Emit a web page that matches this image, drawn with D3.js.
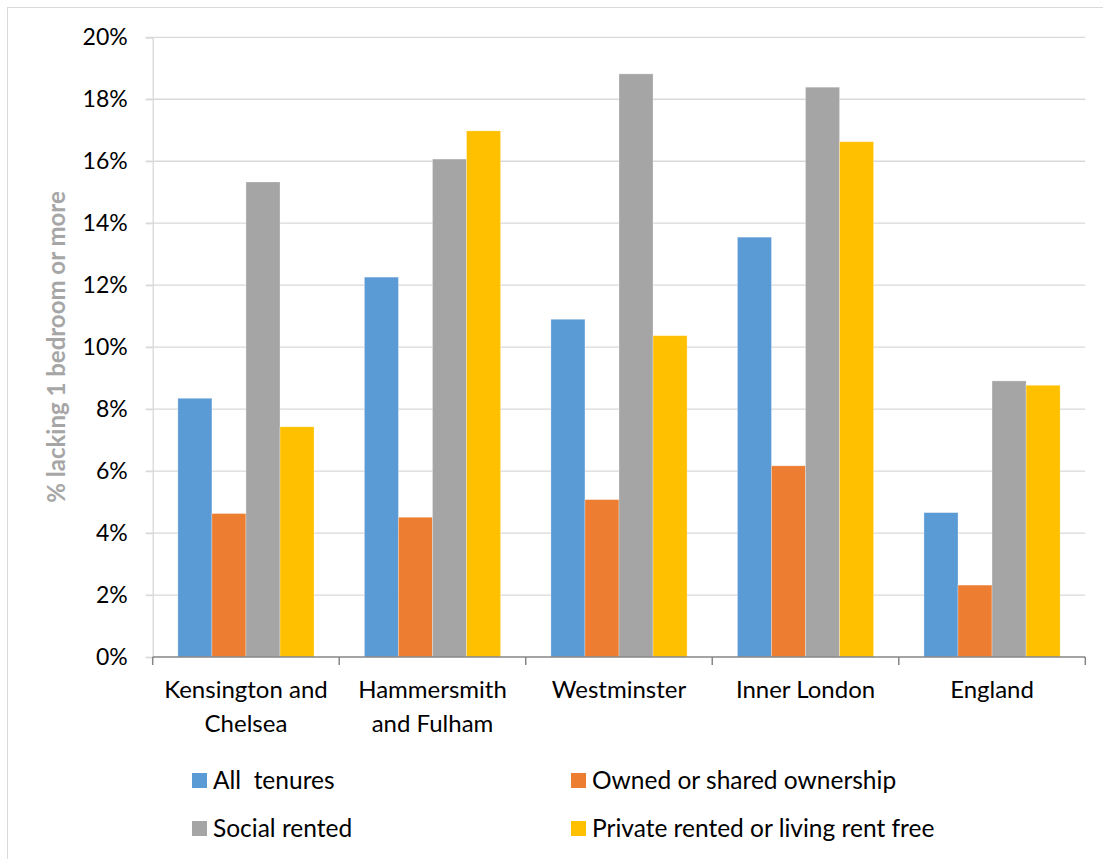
<!DOCTYPE html>
<html>
<head>
<meta charset="utf-8">
<script src="https://cdn.jsdelivr.net/npm/d3@7"></script>
<style>
  html, body { margin: 0; padding: 0; background: #ffffff; }
  svg { display: block; }
  text { font-family: Lato, "Open Sans", sans-serif; }
</style>
</head>
<body>
<svg id="chart" width="1103" height="859"></svg>
<script>
// Share of households lacking one bedroom or more, by tenure
const areas = ["Kensington and Chelsea", "Hammersmith and Fulham", "Westminster", "Inner London", "England"];
const areaLines = [["Kensington and", "Chelsea"], ["Hammersmith", "and Fulham"], ["Westminster"], ["Inner London"], ["England"]];
const tenures = ["All  tenures", "Owned or shared ownership", "Social rented", "Private rented or living rent free"];
const allTenures    = [8.35, 12.26, 10.9, 13.55, 4.66];
const ownedShared   = [4.63, 4.51, 5.08, 6.17, 2.32];
const socialRented  = [15.33, 16.07, 18.82, 18.39, 8.91];
const privateRented = [7.43, 16.98, 10.37, 16.63, 8.77];
const yTicks = [0, 2, 4, 6, 8, 10, 12, 14, 16, 18, 20];
const colors = ["#5b9bd5", "#ed7d31", "#a5a5a5", "#ffc000"];

const seriesValues = [allTenures, ownedShared, socialRented, privateRented];
const rows = areas.map((a, i) => ({ area: a, values: seriesValues.map(s => s[i]) }));

const svg = d3.select("#chart");
const plotLeft = 152.7, plotRight = 1085.3, plotTop = 37.3, plotBottom = 657;

// outer chart frame
svg.append("rect")
  .attr("x", 7.5).attr("y", 7.5).attr("width", 1200).attr("height", 1000)
  .attr("fill", "none").attr("stroke", "#d9d9d9").attr("stroke-width", 1);

const y = d3.scaleLinear().domain([0, 20]).range([plotBottom, plotTop]);
const x0 = d3.scaleBand().domain(areas).range([plotLeft, plotRight]).paddingInner(0.27).paddingOuter(0.135);
const x1 = d3.scaleBand().domain(d3.range(tenures.length)).range([0, x0.bandwidth()]);

// gridlines
svg.append("g")
  .selectAll("line").data(yTicks.filter(t => t > 0)).join("line")
  .attr("x1", plotLeft - 7).attr("x2", plotRight)
  .attr("y1", d => y(d)).attr("y2", d => y(d))
  .attr("stroke", "#d9d9d9").attr("stroke-width", 1.3);

// y axis
const yAxis = svg.append("g").attr("transform", `translate(${plotLeft},0)`)
  .call(d3.axisLeft(y).tickValues(yTicks).tickFormat(d => d + "%").tickSize(7).tickPadding(18));
yAxis.select(".domain").attr("stroke", "#d9d9d9").attr("stroke-width", 1.3);
yAxis.selectAll(".tick line").attr("stroke", "#d9d9d9").attr("stroke-width", 1.3);
yAxis.selectAll(".tick text").attr("fill", "#000").style("font-size", "23px").style("font-family", "Lato, sans-serif");

// bars
svg.append("g").selectAll("g").data(rows).join("g")
  .attr("transform", d => `translate(${x0(d.area)},0)`)
  .selectAll("rect").data(d => d.values.map((v, k) => ({ v, k }))).join("rect")
  .attr("x", d => x1(d.k)).attr("width", x1.bandwidth())
  .attr("y", d => y(d.v)).attr("height", d => plotBottom - y(d.v))
  .attr("fill", d => colors[d.k])
  .attr("stroke", "#ffffff").attr("stroke-opacity", 0.35).attr("stroke-width", 0.8);

// x axis line and category boundary ticks
const step = x0.step();
const boundaries = d3.range(areas.length + 1).map(i => plotLeft + i * step);
svg.append("line").attr("x1", plotLeft).attr("x2", plotRight).attr("y1", plotBottom).attr("y2", plotBottom)
  .attr("stroke", "#868686").attr("stroke-width", 1.5);
svg.append("g").selectAll("line").data(boundaries).join("line")
  .attr("x1", d => d).attr("x2", d => d).attr("y1", plotBottom).attr("y2", plotBottom + 8)
  .attr("stroke", "#868686").attr("stroke-width", 1.5);

// category labels
const catG = svg.append("g");
areas.forEach((a, i) => {
  const cx = x0(a) + x0.bandwidth() / 2;
  const t = catG.append("text").attr("text-anchor", "middle").attr("fill", "#000")
    .style("font-size", "24px");
  areaLines[i].forEach((ln, j) => {
    t.append("tspan").attr("x", cx).attr("y", 698 + j * 34).text(ln);
  });
});

// y axis title
svg.append("text")
  .attr("transform", "translate(65,347) rotate(-90)")
  .attr("text-anchor", "middle")
  .attr("fill", "#a6a6a6").style("font-size", "24px").style("font-weight", "bold")
  .text("% lacking 1 bedroom or more");

// legend
const legendPos = [[192, 773], [571, 773], [192, 821], [571, 821]];
const leg = svg.append("g");
tenures.forEach((t, k) => {
  const [lx, ly] = legendPos[k];
  leg.append("rect").attr("x", lx).attr("y", ly).attr("width", 15).attr("height", 15).attr("fill", colors[k]);
  leg.append("text").attr("x", lx + 21).attr("y", ly + 15.5).attr("fill", "#000")
    .style("font-size", "24.5px").style("white-space", "pre").attr("xml:space", "preserve").text(t);
});
</script>
</body>
</html>
